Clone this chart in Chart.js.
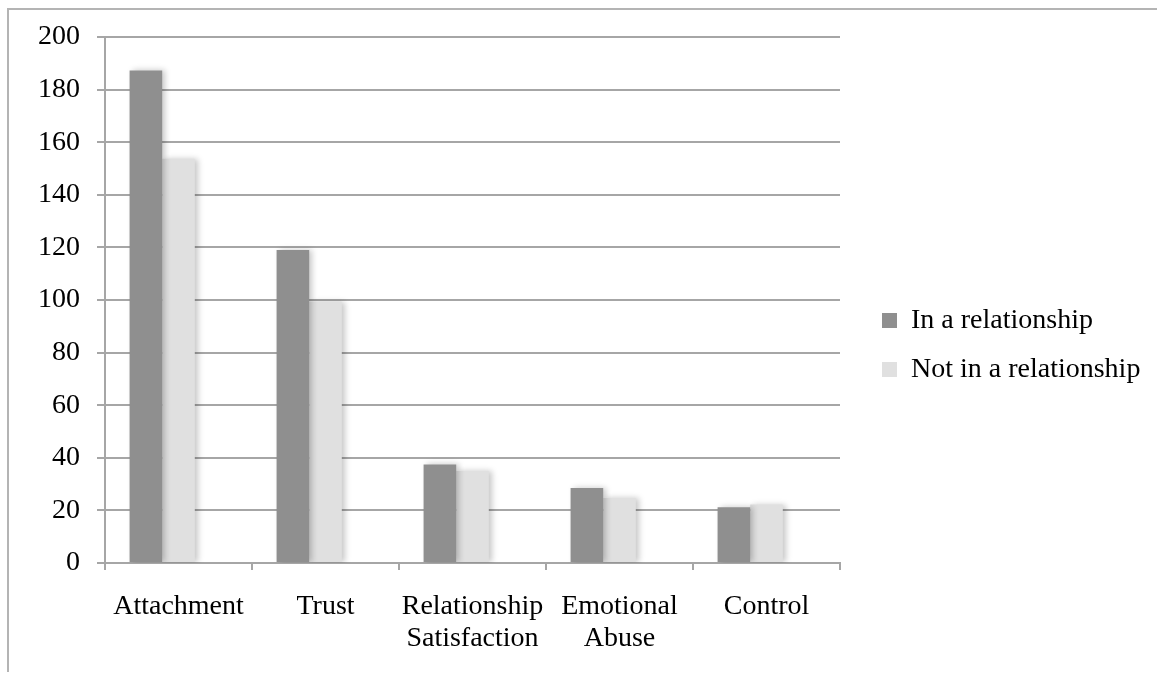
<!DOCTYPE html>
<html>
<head>
<meta charset="utf-8">
<script src="https://cdn.jsdelivr.net/npm/chart.js@4.4.1/dist/chart.umd.min.js"></script>
<style>
  html, body { margin: 0; padding: 0; background: #fff; overflow: hidden; }
  #wrap { position: relative; width: 1157px; height: 675px; }
  #frame {
    position: absolute; left: 7px; top: 8px; width: 1200px; height: 662px;
    border-left: 2px solid #b4b4b4; border-top: 2px solid #b4b4b4;
  }
  #chart { position: absolute; left: 0; top: 0; }
</style>
</head>
<body>
<div id="wrap">
  <div id="frame"></div>
  <canvas id="chart" width="1157" height="675"></canvas>
</div>
<script>
// data
const categories = ['Attachment', 'Trust', ['Relationship', 'Satisfaction'], ['Emotional', 'Abuse'], 'Control'];
const inRelationship = [187.3, 119, 37.5, 28.5, 21.2];
const notInRelationship = [153.7, 99.4, 35, 24.7, 22.2];
const emptySlot = [null, null, null, null, null]; // the original leaves room for a third bar
const yTicks = [0, 20, 40, 60, 80, 100, 120, 140, 160, 180, 200];

const serif = 'Liberation Serif';
const gridColor = '#a6a6a6';

// soft shadow to the right of each bar, like the office chart
const barShadow = {
    id: 'barShadow',
    beforeDatasetsDraw(chart) {
        const ctx = chart.ctx;
        ctx.save();
        ctx.shadowColor = 'rgba(0, 0, 0, 0.22)';
        ctx.shadowBlur = 6;
        ctx.shadowOffsetX = 3;
        ctx.shadowOffsetY = 0;
    },
    afterDatasetsDraw(chart) {
        chart.ctx.restore();
    }
};

// nudge the legend block to where the original has it
const legendNudge = {
    id: 'legendNudge',
    afterLayout(chart) {
        const lg = chart.legend;
        if (!lg) return;
        const dx = 21, dy = -11;
        lg.left += dx; lg.right += dx;
        lg.top += dy; lg.bottom += dy;
    }
};

new Chart(document.getElementById('chart'), {
    type: 'bar',
    data: {
        labels: categories,
        datasets: [
            { label: 'In a relationship', data: inRelationship, backgroundColor: '#8f8f8f' },
            { label: 'Not in a relationship', data: notInRelationship, backgroundColor: '#e0e0e0' },
            { label: '', data: emptySlot, backgroundColor: 'rgba(0,0,0,0)' }
        ]
    },
    options: {
        responsive: false,
        animation: false,
        devicePixelRatio: 1,
        categoryPercentage: 0.6655,
        barPercentage: 1.0,
        layout: { padding: { left: 0, top: 37, right: 37, bottom: 0 } },
        plugins: {
            tooltip: { enabled: false },
            legend: {
                position: 'right',
                labels: {
                    filter: item => item.text !== '',
                    boxWidth: 15, boxHeight: 15,
                    padding: 21,
                    color: '#000',
                    font: { family: serif, size: 28 }
                }
            }
        },
        scales: {
            x: {
                grid: { drawOnChartArea: false, offset: true, color: gridColor, lineWidth: 2, tickLength: 7 },
                border: { color: gridColor, width: 2 },
                ticks: {
                    color: '#000', padding: 20, maxRotation: 0, autoSkip: false,
                    font: { family: serif, size: 28, lineHeight: 1.16 }
                },
                afterFit(scale) { scale.height = 112; }
            },
            y: {
                min: 0, max: 200,
                afterBuildTicks(scale) { scale.ticks = yTicks.map(v => ({ value: v })); },
                grid: { color: gridColor, lineWidth: 2, tickLength: 8 },
                border: { color: gridColor, width: 2 },
                ticks: { color: '#000', padding: 17, font: { family: serif, size: 28 } },
                afterFit(scale) { scale.width = 105; }
            }
        }
    },
    plugins: [barShadow, legendNudge]
});
</script>
</body>
</html>
